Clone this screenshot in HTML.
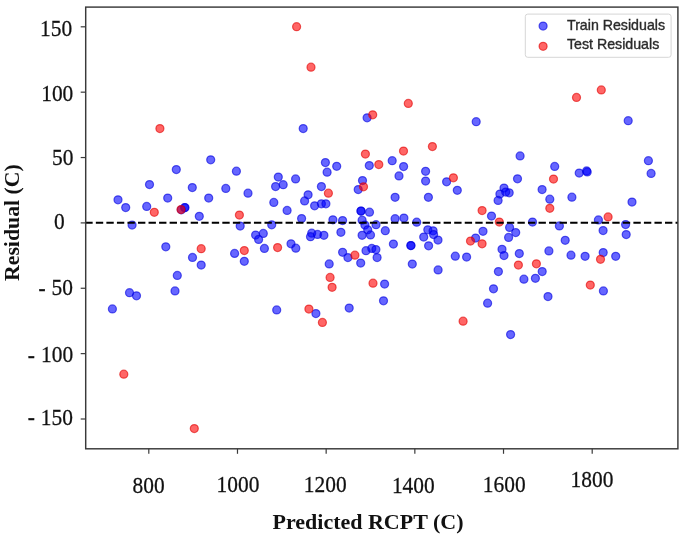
<!DOCTYPE html>
<html><head><meta charset="utf-8"><style>
html,body{margin:0;padding:0;background:#fff;}
body{width:685px;height:537px;overflow:hidden;}
svg{display:block;will-change:transform;}
.tk{font-family:"Liberation Serif",serif;font-size:21.4px;fill:#111;stroke:#111;stroke-width:0.25px;}
.lab{font-family:"Liberation Serif",serif;font-weight:bold;fill:#111;}
.lg{font-family:"Liberation Sans",sans-serif;font-size:14.2px;fill:#2a2a2a;stroke:#2a2a2a;stroke-width:0.35px;}
</style></head><body>
<svg width="685" height="537" viewBox="0 0 685 537">
<rect x="0" y="0" width="685" height="537" fill="#fff"/>

<g fill="#0000ff" fill-opacity="0.6" stroke="#0000dd" stroke-opacity="0.6" stroke-width="1.25">
<circle cx="210.7" cy="159.8" r="4.0"/>
<circle cx="176.3" cy="169.6" r="4.0"/>
<circle cx="149.5" cy="184.6" r="4.0"/>
<circle cx="192.3" cy="187.6" r="4.0"/>
<circle cx="225.8" cy="188.4" r="4.0"/>
<circle cx="118.0" cy="199.8" r="4.0"/>
<circle cx="125.7" cy="207.6" r="4.0"/>
<circle cx="146.7" cy="206.4" r="4.0"/>
<circle cx="167.7" cy="198.1" r="4.0"/>
<circle cx="185.0" cy="207.5" r="4.0"/>
<circle cx="184.6" cy="207.7" r="4.0"/>
<circle cx="181.3" cy="209.8" r="4.0"/>
<circle cx="208.7" cy="198.1" r="4.0"/>
<circle cx="199.3" cy="216.3" r="4.0"/>
<circle cx="132.1" cy="225.0" r="4.0"/>
<circle cx="165.8" cy="246.8" r="4.0"/>
<circle cx="192.5" cy="257.4" r="4.0"/>
<circle cx="201.2" cy="265.1" r="4.0"/>
<circle cx="177.3" cy="275.4" r="4.0"/>
<circle cx="129.5" cy="292.7" r="4.0"/>
<circle cx="136.5" cy="295.8" r="4.0"/>
<circle cx="175.0" cy="290.9" r="4.0"/>
<circle cx="112.4" cy="308.9" r="4.0"/>
<circle cx="303.2" cy="128.5" r="4.0"/>
<circle cx="367.1" cy="117.8" r="4.0"/>
<circle cx="369.3" cy="165.6" r="4.0"/>
<circle cx="325.4" cy="162.5" r="4.0"/>
<circle cx="336.7" cy="166.3" r="4.0"/>
<circle cx="327.1" cy="172.2" r="4.0"/>
<circle cx="236.4" cy="171.2" r="4.0"/>
<circle cx="278.3" cy="177.0" r="4.0"/>
<circle cx="295.6" cy="178.9" r="4.0"/>
<circle cx="283.2" cy="184.7" r="4.0"/>
<circle cx="275.6" cy="186.6" r="4.0"/>
<circle cx="321.4" cy="186.5" r="4.0"/>
<circle cx="248.0" cy="193.2" r="4.0"/>
<circle cx="362.5" cy="180.6" r="4.0"/>
<circle cx="358.2" cy="189.5" r="4.0"/>
<circle cx="308.1" cy="194.8" r="4.0"/>
<circle cx="273.8" cy="202.4" r="4.0"/>
<circle cx="287.1" cy="210.4" r="4.0"/>
<circle cx="240.2" cy="226.0" r="4.0"/>
<circle cx="271.7" cy="224.8" r="4.0"/>
<circle cx="301.6" cy="218.6" r="4.0"/>
<circle cx="304.6" cy="200.9" r="4.0"/>
<circle cx="255.6" cy="235.0" r="4.0"/>
<circle cx="263.3" cy="233.4" r="4.0"/>
<circle cx="258.6" cy="239.4" r="4.0"/>
<circle cx="291.0" cy="243.8" r="4.0"/>
<circle cx="295.8" cy="248.2" r="4.0"/>
<circle cx="264.4" cy="248.4" r="4.0"/>
<circle cx="234.6" cy="253.4" r="4.0"/>
<circle cx="244.3" cy="261.3" r="4.0"/>
<circle cx="314.6" cy="205.8" r="4.0"/>
<circle cx="321.4" cy="203.8" r="4.0"/>
<circle cx="325.9" cy="203.8" r="4.0"/>
<circle cx="361.0" cy="211.1" r="4.0"/>
<circle cx="361.0" cy="211.1" r="4.0"/>
<circle cx="369.5" cy="212.2" r="4.0"/>
<circle cx="332.9" cy="219.8" r="4.0"/>
<circle cx="342.6" cy="220.6" r="4.0"/>
<circle cx="362.1" cy="220.2" r="4.0"/>
<circle cx="364.9" cy="225.1" r="4.0"/>
<circle cx="367.7" cy="229.8" r="4.0"/>
<circle cx="362.1" cy="235.3" r="4.0"/>
<circle cx="370.5" cy="234.9" r="4.0"/>
<circle cx="376.0" cy="224.7" r="4.0"/>
<circle cx="385.3" cy="230.7" r="4.0"/>
<circle cx="340.9" cy="232.3" r="4.0"/>
<circle cx="311.7" cy="233.2" r="4.0"/>
<circle cx="310.5" cy="236.7" r="4.0"/>
<circle cx="317.5" cy="234.4" r="4.0"/>
<circle cx="323.9" cy="235.3" r="4.0"/>
<circle cx="342.6" cy="252.3" r="4.0"/>
<circle cx="347.9" cy="257.5" r="4.0"/>
<circle cx="360.7" cy="263.0" r="4.0"/>
<circle cx="366.0" cy="250.7" r="4.0"/>
<circle cx="371.8" cy="248.4" r="4.0"/>
<circle cx="375.9" cy="249.6" r="4.0"/>
<circle cx="377.1" cy="257.5" r="4.0"/>
<circle cx="329.2" cy="263.9" r="4.0"/>
<circle cx="276.7" cy="309.9" r="4.0"/>
<circle cx="315.9" cy="313.6" r="4.0"/>
<circle cx="349.2" cy="308.0" r="4.0"/>
<circle cx="476.2" cy="121.7" r="4.0"/>
<circle cx="392.2" cy="160.7" r="4.0"/>
<circle cx="403.6" cy="166.6" r="4.0"/>
<circle cx="399.0" cy="175.9" r="4.0"/>
<circle cx="425.6" cy="171.3" r="4.0"/>
<circle cx="425.6" cy="181.0" r="4.0"/>
<circle cx="446.6" cy="181.8" r="4.0"/>
<circle cx="395.1" cy="197.3" r="4.0"/>
<circle cx="428.4" cy="197.3" r="4.0"/>
<circle cx="457.3" cy="190.3" r="4.0"/>
<circle cx="520.1" cy="155.9" r="4.0"/>
<circle cx="517.5" cy="178.8" r="4.0"/>
<circle cx="504.0" cy="188.0" r="4.0"/>
<circle cx="509.2" cy="192.8" r="4.0"/>
<circle cx="499.9" cy="194.1" r="4.0"/>
<circle cx="498.1" cy="200.4" r="4.0"/>
<circle cx="505.7" cy="192.0" r="4.0"/>
<circle cx="395.1" cy="218.7" r="4.0"/>
<circle cx="403.9" cy="218.1" r="4.0"/>
<circle cx="416.7" cy="222.2" r="4.0"/>
<circle cx="393.4" cy="244.1" r="4.0"/>
<circle cx="410.9" cy="245.5" r="4.0"/>
<circle cx="410.9" cy="245.5" r="4.0"/>
<circle cx="427.8" cy="229.8" r="4.0"/>
<circle cx="433.1" cy="230.8" r="4.0"/>
<circle cx="433.6" cy="234.6" r="4.0"/>
<circle cx="423.7" cy="237.1" r="4.0"/>
<circle cx="438.0" cy="240.0" r="4.0"/>
<circle cx="428.6" cy="245.8" r="4.0"/>
<circle cx="412.3" cy="264.0" r="4.0"/>
<circle cx="491.5" cy="216.1" r="4.0"/>
<circle cx="509.6" cy="227.4" r="4.0"/>
<circle cx="515.7" cy="232.5" r="4.0"/>
<circle cx="508.6" cy="237.4" r="4.0"/>
<circle cx="483.0" cy="231.3" r="4.0"/>
<circle cx="475.6" cy="238.0" r="4.0"/>
<circle cx="502.0" cy="249.3" r="4.0"/>
<circle cx="504.0" cy="255.5" r="4.0"/>
<circle cx="519.3" cy="253.5" r="4.0"/>
<circle cx="455.3" cy="256.2" r="4.0"/>
<circle cx="466.6" cy="257.1" r="4.0"/>
<circle cx="438.1" cy="269.9" r="4.0"/>
<circle cx="384.6" cy="284.1" r="4.0"/>
<circle cx="383.5" cy="300.8" r="4.0"/>
<circle cx="498.4" cy="271.6" r="4.0"/>
<circle cx="523.9" cy="279.2" r="4.0"/>
<circle cx="493.5" cy="288.8" r="4.0"/>
<circle cx="487.6" cy="303.2" r="4.0"/>
<circle cx="510.6" cy="334.6" r="4.0"/>
<circle cx="628.2" cy="120.7" r="4.0"/>
<circle cx="648.4" cy="160.7" r="4.0"/>
<circle cx="651.1" cy="173.4" r="4.0"/>
<circle cx="632.0" cy="202.0" r="4.0"/>
<circle cx="554.7" cy="166.4" r="4.0"/>
<circle cx="542.1" cy="189.5" r="4.0"/>
<circle cx="549.8" cy="199.2" r="4.0"/>
<circle cx="571.9" cy="197.2" r="4.0"/>
<circle cx="579.2" cy="173.1" r="4.0"/>
<circle cx="586.6" cy="170.9" r="4.0"/>
<circle cx="587.2" cy="171.9" r="4.0"/>
<circle cx="532.5" cy="222.0" r="4.0"/>
<circle cx="559.4" cy="225.9" r="4.0"/>
<circle cx="565.2" cy="240.3" r="4.0"/>
<circle cx="548.9" cy="250.9" r="4.0"/>
<circle cx="571.0" cy="255.2" r="4.0"/>
<circle cx="585.1" cy="256.3" r="4.0"/>
<circle cx="598.4" cy="219.9" r="4.0"/>
<circle cx="625.6" cy="224.5" r="4.0"/>
<circle cx="603.1" cy="230.6" r="4.0"/>
<circle cx="626.2" cy="234.5" r="4.0"/>
<circle cx="603.2" cy="252.5" r="4.0"/>
<circle cx="615.7" cy="256.3" r="4.0"/>
<circle cx="542.2" cy="271.6" r="4.0"/>
<circle cx="535.4" cy="278.3" r="4.0"/>
<circle cx="548.0" cy="296.5" r="4.0"/>
<circle cx="603.4" cy="290.9" r="4.0"/>
</g>
<g fill="#ff0000" fill-opacity="0.6" stroke="#e00000" stroke-opacity="0.6" stroke-width="1.25">
<circle cx="159.9" cy="128.5" r="4.0"/>
<circle cx="154.3" cy="212.3" r="4.0"/>
<circle cx="181.0" cy="209.6" r="4.0"/>
<circle cx="201.2" cy="248.7" r="4.0"/>
<circle cx="123.8" cy="374.2" r="4.0"/>
<circle cx="194.3" cy="428.5" r="4.0"/>
<circle cx="296.6" cy="26.7" r="4.0"/>
<circle cx="311.0" cy="67.2" r="4.0"/>
<circle cx="372.7" cy="114.8" r="4.0"/>
<circle cx="365.4" cy="154.0" r="4.0"/>
<circle cx="328.4" cy="193.2" r="4.0"/>
<circle cx="363.5" cy="186.8" r="4.0"/>
<circle cx="239.4" cy="215.1" r="4.0"/>
<circle cx="277.6" cy="247.6" r="4.0"/>
<circle cx="244.3" cy="250.5" r="4.0"/>
<circle cx="354.9" cy="255.2" r="4.0"/>
<circle cx="330.1" cy="277.4" r="4.0"/>
<circle cx="332.1" cy="287.3" r="4.0"/>
<circle cx="373.0" cy="283.2" r="4.0"/>
<circle cx="308.9" cy="309.0" r="4.0"/>
<circle cx="322.4" cy="322.4" r="4.0"/>
<circle cx="408.3" cy="103.4" r="4.0"/>
<circle cx="432.4" cy="146.5" r="4.0"/>
<circle cx="403.5" cy="151.0" r="4.0"/>
<circle cx="378.8" cy="164.6" r="4.0"/>
<circle cx="453.4" cy="177.8" r="4.0"/>
<circle cx="482.1" cy="210.5" r="4.0"/>
<circle cx="499.3" cy="222.0" r="4.0"/>
<circle cx="470.5" cy="241.1" r="4.0"/>
<circle cx="482.1" cy="243.8" r="4.0"/>
<circle cx="518.4" cy="265.0" r="4.0"/>
<circle cx="463.1" cy="321.2" r="4.0"/>
<circle cx="576.5" cy="97.4" r="4.0"/>
<circle cx="601.3" cy="89.9" r="4.0"/>
<circle cx="553.5" cy="179.0" r="4.0"/>
<circle cx="549.8" cy="208.3" r="4.0"/>
<circle cx="608.1" cy="216.9" r="4.0"/>
<circle cx="600.5" cy="259.3" r="4.0"/>
<circle cx="536.4" cy="263.8" r="4.0"/>
<circle cx="590.3" cy="285.0" r="4.0"/>
</g>
<line x1="85.3" y1="222.7" x2="677.9" y2="222.7" stroke="#000" stroke-width="1.95" stroke-dasharray="7.36 3.18"/>
<rect x="85.7" y="7.1" width="592.1999999999999" height="441.7" fill="none" stroke="#3a3a3a" stroke-width="1.45"/>
<line x1="80.7" y1="26.81" x2="85.7" y2="26.81" stroke="#3a3a3a" stroke-width="1.2"/>
<text class="tk" transform="translate(72.2,35.7) scale(1,1.05)" text-anchor="end">150</text>
<line x1="80.7" y1="92.17" x2="85.7" y2="92.17" stroke="#3a3a3a" stroke-width="1.2"/>
<text class="tk" transform="translate(73.3,100.7) scale(1,1.05)" text-anchor="end">100</text>
<line x1="80.7" y1="157.54" x2="85.7" y2="157.54" stroke="#3a3a3a" stroke-width="1.2"/>
<text class="tk" transform="translate(73.4,164.9) scale(1,1.05)" text-anchor="end">50</text>
<line x1="80.7" y1="222.90" x2="85.7" y2="222.90" stroke="#3a3a3a" stroke-width="1.2"/>
<text class="tk" transform="translate(64.6,228.6) scale(1,1.05)" text-anchor="end">0</text>
<line x1="80.7" y1="288.26" x2="85.7" y2="288.26" stroke="#3a3a3a" stroke-width="1.2"/>
<text class="tk" transform="translate(73.0,295.4) scale(1,1.05)" text-anchor="end">50</text>
<text class="tk" transform="translate(38.60,295.80) scale(1,1.05)">-</text>
<line x1="80.7" y1="353.63" x2="85.7" y2="353.63" stroke="#3a3a3a" stroke-width="1.2"/>
<text class="tk" transform="translate(73.1,362.3) scale(1,1.05)" text-anchor="end">100</text>
<text class="tk" transform="translate(27.70,362.70) scale(1,1.05)">-</text>
<line x1="80.7" y1="419.00" x2="85.7" y2="419.00" stroke="#3a3a3a" stroke-width="1.2"/>
<text class="tk" transform="translate(72.9,425.0) scale(1,1.05)" text-anchor="end">150</text>
<text class="tk" transform="translate(27.70,425.40) scale(1,1.05)">-</text>
<line x1="148.80" y1="448.8" x2="148.80" y2="453.8" stroke="#3a3a3a" stroke-width="1.2"/>
<text class="tk" transform="translate(148.6,492.6) scale(1,1.05)" text-anchor="middle">800</text>
<line x1="237.48" y1="448.8" x2="237.48" y2="453.8" stroke="#3a3a3a" stroke-width="1.2"/>
<text class="tk" transform="translate(238.0,492.4) scale(1,1.05)" text-anchor="middle">1000</text>
<line x1="326.16" y1="448.8" x2="326.16" y2="453.8" stroke="#3a3a3a" stroke-width="1.2"/>
<text class="tk" transform="translate(325.2,492.2) scale(1,1.05)" text-anchor="middle">1200</text>
<line x1="414.84" y1="448.8" x2="414.84" y2="453.8" stroke="#3a3a3a" stroke-width="1.2"/>
<text class="tk" transform="translate(413.3,492.8) scale(1,1.05)" text-anchor="middle">1400</text>
<line x1="503.52" y1="448.8" x2="503.52" y2="453.8" stroke="#3a3a3a" stroke-width="1.2"/>
<text class="tk" transform="translate(504.2,492.1) scale(1,1.05)" text-anchor="middle">1600</text>
<line x1="592.20" y1="448.8" x2="592.20" y2="453.8" stroke="#3a3a3a" stroke-width="1.2"/>
<text class="tk" transform="translate(592.0,487.2) scale(1,1.05)" text-anchor="middle">1800</text>
<text class="lab" x="368" y="529.4" text-anchor="middle" font-size="22">Predicted RCPT (C)</text>
<text class="lab" transform="translate(18.9,222.6) rotate(-90)" x="0" y="0" text-anchor="middle" font-size="21.8">Residual (C)</text>
<rect x="525.3" y="14.1" width="145.8" height="43.2" rx="2.5" ry="2.5" fill="#fff" fill-opacity="0.8" stroke="#d6d6d6" stroke-width="1"/>
<circle cx="543.1" cy="26.0" r="4.0" fill="#0000ff" fill-opacity="0.6" stroke="#0000dd" stroke-opacity="0.6" stroke-width="1.25"/>
<circle cx="543.1" cy="46.3" r="4.0" fill="#ff0000" fill-opacity="0.6" stroke="#e00000" stroke-opacity="0.6" stroke-width="1.25"/>
<text class="lg" x="567.0" y="29.5">Train Residuals</text>
<text class="lg" x="567.0" y="49.3">Test Residuals</text>
</svg>
</body></html>
